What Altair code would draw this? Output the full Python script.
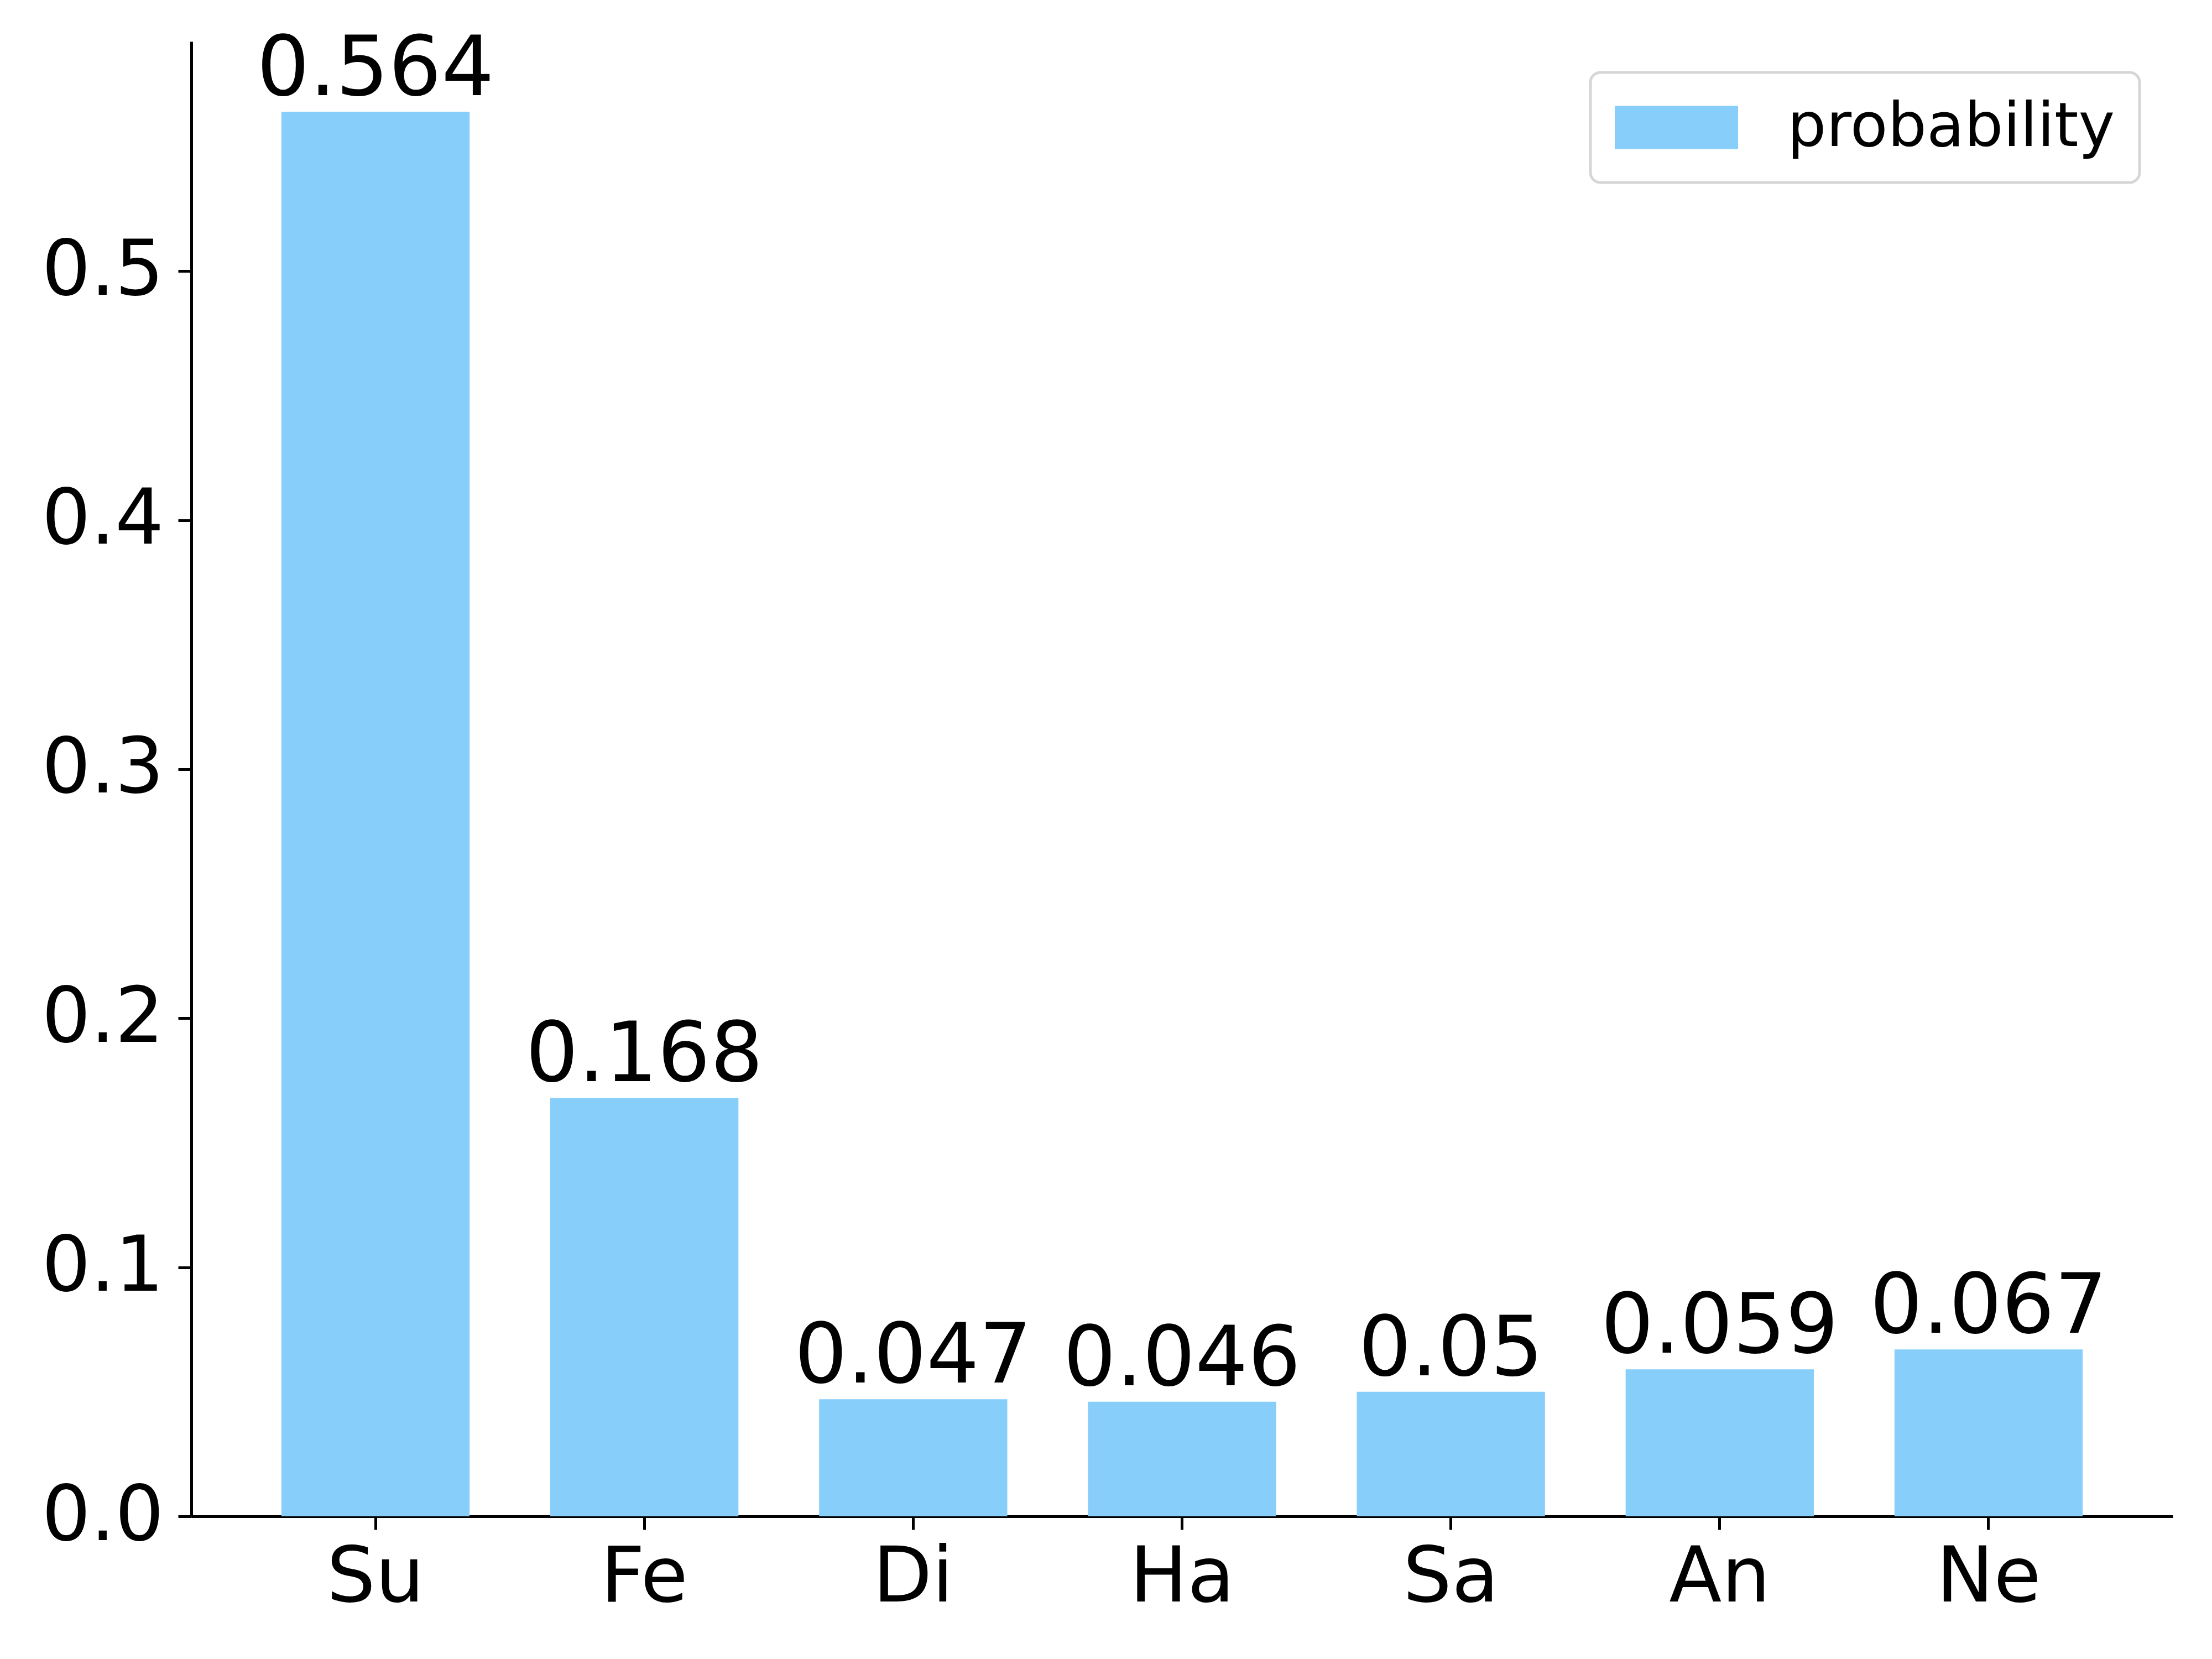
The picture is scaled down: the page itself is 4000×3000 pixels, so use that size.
import altair as alt
import pandas as pd

categories = ["Su", "Fe", "Di", "Ha", "Sa", "An", "Ne"]
values = [0.564, 0.168, 0.047, 0.046, 0.05, 0.059, 0.067]
series_name = "probability"
y_ticks = [0.0, 0.1, 0.2, 0.3, 0.4, 0.5]

df = pd.DataFrame({
    "cat": categories,
    "value": values,
    "label": [str(v) for v in values],
    "series": [series_name] * len(values),
})

FONT = "DejaVu Sans"
BAR = "#87CEFA"

x_enc = alt.X("cat:N", sort=categories, title=None,
              scale=alt.Scale(paddingInner=0.3, paddingOuter=0.335),
              axis=alt.Axis(labelAngle=0, labelFontSize=139, labelPadding=19,
                            labelLimit=0, tickSize=24, tickWidth=5, domainWidth=5,
                            tickColor="black", domainColor="black",
                            labelColor="black", labelFont=FONT, grid=False))
y_enc = alt.Y("value:Q", title=None,
              scale=alt.Scale(domain=[0, 0.5922], nice=False, zero=True),
              axis=alt.Axis(values=y_ticks, format=".1f", labelFontSize=139,
                            labelPadding=26, labelLimit=0, tickSize=24, tickWidth=5,
                            domainWidth=5, tickColor="black", domainColor="black",
                            labelColor="black", labelFont=FONT, grid=False))

bars = alt.Chart(df).mark_bar().encode(
    x=x_enc,
    y=y_enc,
    color=alt.Color("series:N",
                    scale=alt.Scale(domain=[series_name], range=[BAR]),
                    legend=alt.Legend(orient="none", legendX=2530, legendY=56,
                                      title=None, labelFontSize=111, labelFont=FONT,
                                      labelLimit=0, clipHeight=111,
                                      symbolType="M-1,-0.35L1,-0.35L1,0.35L-1,0.35Z",
                                      symbolSize=49729, symbolStrokeWidth=0,
                                      padding=44, labelOffset=89,
                                      strokeColor="#d6d6d6", fillColor="white",
                                      cornerRadius=18, labelColor="black")),
)

texts = alt.Chart(df).mark_text(baseline="alphabetic", dy=-30, fontSize=150,
                                font=FONT, color="black").encode(
    x=alt.X("cat:N", sort=categories),
    y=alt.Y("value:Q"),
    text="label:N",
)

chart = alt.layer(bars, texts).properties(
    width=3583, height=2667,
    padding={"left": 66, "top": 44, "right": 60, "bottom": 60},
).configure_view(stroke=None).configure_legend(strokeWidth=5)

chart.save("out.html", embed_options={"renderer": "svg", "actions": False})
